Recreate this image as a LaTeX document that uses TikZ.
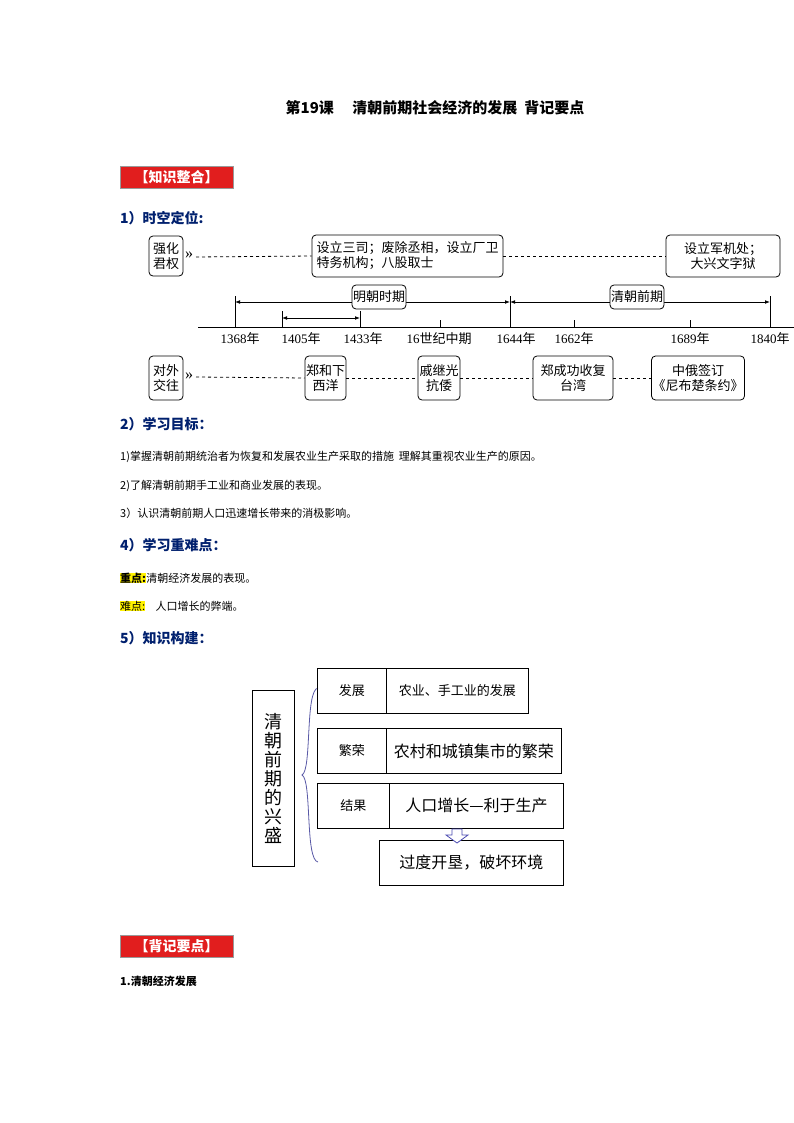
\documentclass[tikz,border=0pt]{standalone}
\usepackage{fontspec}
\setmainfont{Liberation Serif}
\newfontfamily\cjk{Noto Sans CJK SC}
\usetikzlibrary{arrows.meta}
\definecolor{navy}{RGB}{0,32,110}
\definecolor{redbox}{RGB}{225,30,30}
\tikzset{x=1pt,y=-1pt,
 rb/.style={draw,rounded corners=4pt,thick,inner sep=1pt,font=\cjk\fontsize{13}{15}\selectfont,align=center},
 dl/.style={dashed,thick},
 sq/.style={draw,thick,inner sep=0pt},
 lab/.style={font=\fontsize{16}{16}\selectfont,inner sep=0pt},
 yr/.style={font=\fontsize{13}{15}\selectfont,inner sep=0pt},
 hd/.style={font=\cjk\bfseries\fontsize{14}{16}\selectfont,text=navy,anchor=west,inner sep=0pt},
 tx/.style={font=\cjk\fontsize{11}{13}\selectfont,anchor=west,inner sep=0pt},
 tag/.style={fill=redbox,draw=black!40,text=white,font=\cjk\bfseries\fontsize{14}{16}\selectfont,minimum width=113pt,minimum height=22pt,inner sep=0pt}}
\begin{document}
\begin{tikzpicture}
\useasboundingbox[fill=white] (0,0) rectangle (794,1123);
\node[font=\cjk\bfseries\fontsize{15}{17}\selectfont] (title) at (435,108) {第19课\quad\ 清朝前期社会经济的发展\ \ 背记要点};
\node[tag] (t1) at (176.5,177) {【知识整合】};
\node[hd] (h1) at (120,218) {1）时空定位:};
% top row
\node[rb,minimum width=34pt,minimum height=40pt] (a0) at (166,256) {强化\\君权};
\node[rb,minimum width=191pt,minimum height=42pt,align=left] (a1) at (407.5,256) {设立三司；废除丞相，设立厂卫\\特务机构；八股取士};
\node[rb,minimum width=114pt,minimum height=42pt] (a2) at (723,256) {设立军机处；\\大兴文字狱};
\node[lab,anchor=west] (g1) at (185,255) {»};
\draw[dl] (196,257) -- (a1.west);
\draw[dl] (a1.east) -- (a2.west);
% axis
\draw[thick] (198,327) -- (794,327);
\coordinate (p1) at (235,302); \coordinate (p2) at (510,302); \coordinate (p3) at (770,302);
\draw[thick] (235,296) -- (235,327); \draw[thick] (510,296) -- (510,327); \draw[thick] (770,296) -- (770,327);
\draw[thick,{Latex[length=5pt]}-{Latex[length=5pt]}] (p1) -- (p2);
\draw[thick,{Latex[length=5pt]}-{Latex[length=5pt]}] (p2) -- (p3);
\node[rb,fill=white,minimum width=54pt,minimum height=24pt] (m) at (379,297) {明朝时期};
\node[rb,fill=white,minimum width=54pt,minimum height=24pt] (q) at (637,297) {清朝前期};
\draw[thick] (282,311) -- (282,327); \draw[thick] (360,311) -- (360,327);
\draw[thick,{Latex[length=5pt]}-{Latex[length=5pt]}] (282,318) -- (360,318);
\foreach \x in {440,574,690} \draw[thick] (\x,320) -- (\x,327);
\node[yr] (y1) at (240,339) {1368\cjk 年};
\node[yr] (y2) at (301,339) {1405\cjk 年};
\node[yr] (y3) at (363,339) {1433\cjk 年};
\node[yr] (y4) at (439,339) {16\cjk 世纪中期};
\node[yr] (y5) at (516,339) {1644\cjk 年};
\node[yr] (y6) at (574,339) {1662\cjk 年};
\node[yr] (y7) at (690,339) {1689\cjk 年};
\node[yr] (y8) at (770,339) {1840\cjk 年};
% bottom row
\node[rb,minimum width=34pt,minimum height=44pt] (b0) at (166,378) {对外\\交往};
\node[lab,anchor=west] (g2) at (185,376) {»};
\node[rb,minimum width=41pt,minimum height=44pt] (b1) at (325.5,378) {郑和下\\西洋};
\node[rb,minimum width=42pt,minimum height=44pt] (b2) at (439,378) {戚继光\\抗倭};
\node[rb,minimum width=80pt,minimum height=44pt] (b3) at (573,378) {郑成功收复\\台湾};
\node[rb,minimum width=88pt,minimum height=44pt] (b4) at (698,378) {中俄签订\\《尼布楚条约》};
\draw[dl] (196,377) -- (b1.west);
\draw[dl] (b1.east) -- (b2.west);
\draw[dl] (b2.east) -- (b3.west);
\draw[dl] (b3.east) -- (b4.west);
% text
\node[hd] (h2) at (120,424) {2）学习目标：};
\node[tx] (l1) at (120,457) {1)掌握清朝前期统治者为恢复和发展农业生产采取的措施\ \ 理解其重视农业生产的原因。};
\node[tx] (l2) at (120,486) {2)了解清朝前期手工业和商业发展的表现。};
\node[tx] (l3) at (120,513) {3）认识清朝前期人口迅速增长带来的消极影响。};
\node[hd] (h4) at (120,545) {4）学习重难点：};
\node[tx,fill=yellow] (k1) at (120,578) {\bfseries 重点:};
\node[tx,anchor=west] (k1t) at (k1.east) {清朝经济发展的表现。};
\node[tx,fill=yellow] (k2) at (120,606) {难点:};
\node[tx,anchor=west] (k2t) at ([xshift=10pt]k2.east) {人口增长的弊端。};
\node[hd] (h5) at (120,638) {5）知识构建：};
% structure diagram
\node[sq,minimum width=42pt,minimum height=176pt,font=\cjk\fontsize{18}{19}\selectfont,align=center,anchor=north west] (c0) at (252,690) {清\\朝\\前\\期\\的\\兴\\盛};
\draw[thick,color=blue!30!gray] (318,688) .. controls (305,690) and (312,770) .. (302,775) .. controls (312,780) and (305,860) .. (318,862);
\node[sq,minimum width=69pt,minimum height=45pt,anchor=north west,font=\cjk\fontsize{13}{15}\selectfont] (r1a) at (317,668) {发展};
\node[sq,minimum width=142pt,minimum height=45pt,anchor=north west,font=\cjk\fontsize{13}{15}\selectfont] (r1b) at (386,668) {农业、手工业的发展};
\node[sq,minimum width=69pt,minimum height=45pt,anchor=north west,font=\cjk\fontsize{13}{15}\selectfont] (r2a) at (317,728) {繁荣};
\node[sq,minimum width=175pt,minimum height=45pt,anchor=north west,font=\cjk\fontsize{16}{18}\selectfont] (r2b) at (386,728) {农村和城镇集市的繁荣};
\node[sq,minimum width=72pt,minimum height=45pt,anchor=north west,font=\cjk\fontsize{13}{15}\selectfont] (r3a) at (317,783) {结果};
\node[sq,minimum width=174pt,minimum height=45pt,anchor=north west,font=\cjk\fontsize{16}{18}\selectfont] (r3b) at (389,783) {人口增长—利于生产};
\node[sq,minimum width=184pt,minimum height=45pt,anchor=north west,font=\cjk\fontsize{16}{18}\selectfont] (r4) at (379,840) {过度开垦，破坏环境};
\draw[thick,draw=blue!40!gray,fill=white] (452,829) -- (462,829) -- (462,835) -- (468,835) -- (457,843) -- (446,835) -- (452,835) -- cycle;
\node[tag] (t2) at (176.5,946) {【背记要点】};
\node[tx,font=\cjk\bfseries\fontsize{11}{13}\selectfont] (s1) at (120,981) {1.清朝经济发展};
\end{tikzpicture}
\end{document}
